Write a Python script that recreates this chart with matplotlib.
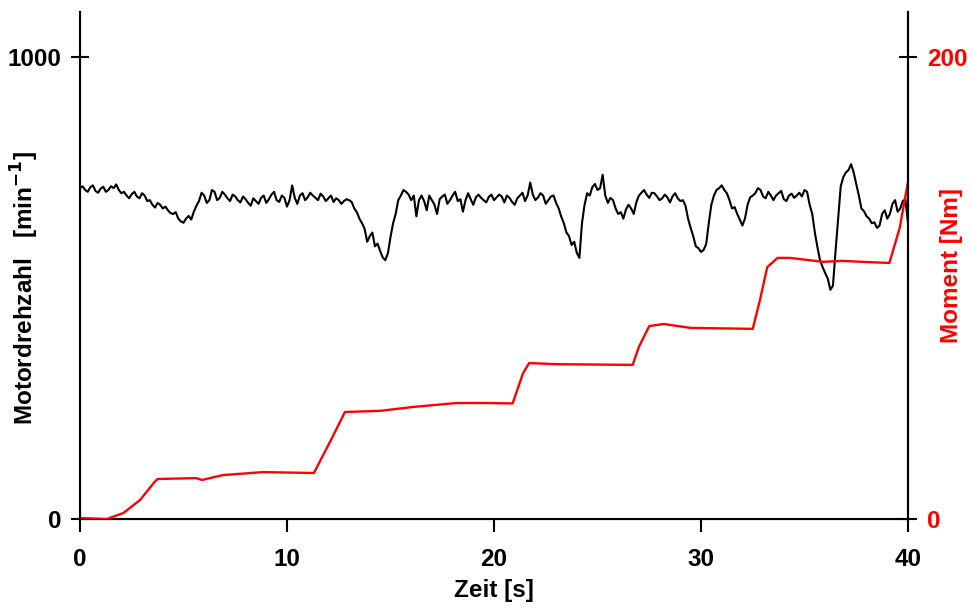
import numpy as np
import matplotlib
matplotlib.use("Agg")
import matplotlib.pyplot as plt

plt.rcParams['font.family'] = ['Liberation Sans', 'DejaVu Sans']
plt.rcParams['font.weight'] = 'bold'

rpm_main = [716, 712, 718, 710, 715, 708, 720, 724, 705, 700,
            703, 698, 705, 688, 680, 684, 672, 668, 660, 650,
            641, 656, 665, 688, 700, 690, 708, 695, 702, 688,
            698, 685, 692, 678, 688, 695, 684, 702, 690, 700,
            676, 722, 682, 705, 696, 700, 690, 698, 694, 686,
            690, 688, 690, 672, 650, 628, 612, 590, 580, 560,
            610, 660, 700, 708, 690, 655, 700, 668, 690, 660,
            698, 682, 700, 688, 665, 705, 680, 702, 690, 697,
            690, 702, 685, 695, 680, 700, 688, 728, 690, 705,
            682, 698, 684, 654, 620, 593, 576, 640, 705, 718,
            712, 745, 684, 690, 660, 650, 680, 660, 700, 712,
            695, 705, 690, 702, 685, 705, 688, 678, 630, 590,
            578, 595, 680, 712, 722, 705, 672, 660, 635, 680,
            700, 716, 698, 708, 690, 705, 692, 700, 695, 706,
            712, 680, 620, 560, 532, 496, 580, 720, 750, 768,
            725, 672, 655, 640, 630, 660, 650, 682, 665, 688,
            640]
# Zwischenwerte (jeweils 0.125 s versetzt)
rpm_mid = [720, 708, 722, 706, 719, 712, 716, 712, 708, 694,
           708, 694, 700, 690, 674, 680, 676, 662, 664, 644,
           650, 648, 678, 706, 684, 712, 690, 708, 694, 702,
           690, 698, 684, 694, 682, 700, 692, 708, 686, 695,
           690, 695, 700, 690, 706, 695, 704, 688, 700, 694,
           682, 692, 686, 664, 640, 600, 620, 596, 566, 575,
           640, 690, 712, 702, 700, 690, 688, 700, 680, 692,
           702, 690, 708, 692, 690, 692, 696, 695, 685, 702,
           696, 698, 700, 686, 694, 706, 700, 702, 696, 700,
           690, 700, 672, 640, 612, 600, 565, 680, 700, 725,
           716, 700, 695, 672, 664, 670, 672, 685, 706, 702,
           706, 698, 694, 696, 698, 694, 690, 650, 612, 586,
           582, 640, 700, 716, 712, 690, 675, 648, 650, 696,
           705, 712, 694, 700, 700, 710, 688, 704, 700, 698,
           708, 660, 588, 545, 520, 505, 650, 740, 755, 750,
           700, 666, 650, 642, 635, 668, 660, 690, 672, 692]

rpm_t = np.arange(0, 40.001, 0.125)
rpm = []
for i in range(len(rpm_mid)):
    rpm.append(rpm_main[i])
    rpm.append(rpm_mid[i])
rpm.append(rpm_main[-1])

# Moment
nm_t = [0, 1.3, 2.1, 2.9, 3.6, 3.75, 5.6, 5.9, 6.9, 8.85, 11.3, 12.2, 12.8,
        14.5, 16.1, 18.2, 19.65, 20.9, 21.4, 21.7, 23.0, 26.7, 27.0, 27.5,
        28.2, 29.5, 32.5, 32.85, 33.2, 33.7, 34.3, 35.9, 36.8, 39.1, 39.6, 40.0]
nm = [0.4, 0, 2.6, 8.2, 16, 17.3, 17.7, 16.9, 19.0, 20.3, 19.9, 35.5, 46.3,
      46.8, 48.5, 50.2, 50.2, 50, 63, 67.5, 67, 66.7, 74.5, 83.5,
      84.4, 82.7, 82.3, 94.8, 109, 113, 113, 111.3, 111.7, 110.8, 126, 146]

fs = 17.5

fig = plt.figure(figsize=(9.73, 6.10), dpi=100)
ax = fig.add_axes([0.0822, 0.1492, 0.851, 0.831])
ax.plot(rpm_t, rpm, color='black', lw=1.5)
ax.set_xlim(0, 40)
ax.set_ylim(0, 1097)
ax.set_xticks([0, 10, 20, 30, 40])
ax.set_yticks([0, 1000])
ax.spines['top'].set_visible(False)
for s in ['left', 'bottom', 'right']:
    ax.spines[s].set_linewidth(1.5)
ax.tick_params(axis='x', direction='out', length=9, width=1.5, labelsize=fs, pad=12)
ax.tick_params(axis='y', direction='inout', length=13, width=1.5, labelsize=fs, pad=7)
ax.set_xlabel("Zeit [s]", fontsize=fs, fontweight='bold', labelpad=6)
ax.set_ylabel("Motordrehzahl   [min$^{\\mathbf{-1}}$]", fontsize=fs, fontweight='bold')
ax.yaxis.set_label_coords(-0.047, 0.456)

ax2 = ax.twinx()
ax2.plot(nm_t, nm, color='red', lw=1.7)
ax2.set_ylim(0, 219.4)
ax2.set_yticks([0, 200])
ax2.spines['top'].set_visible(False)
ax2.spines['right'].set_linewidth(1.5)
ax2.tick_params(axis='y', direction='inout', length=13, width=1.5, labelsize=fs,
                labelcolor='red', pad=7)
ax2.set_ylabel("Moment [Nm]", fontsize=fs, fontweight='bold', color='red')
ax2.yaxis.set_label_coords(1.039, 0.5)

fig.savefig("out.png", dpi=100)
